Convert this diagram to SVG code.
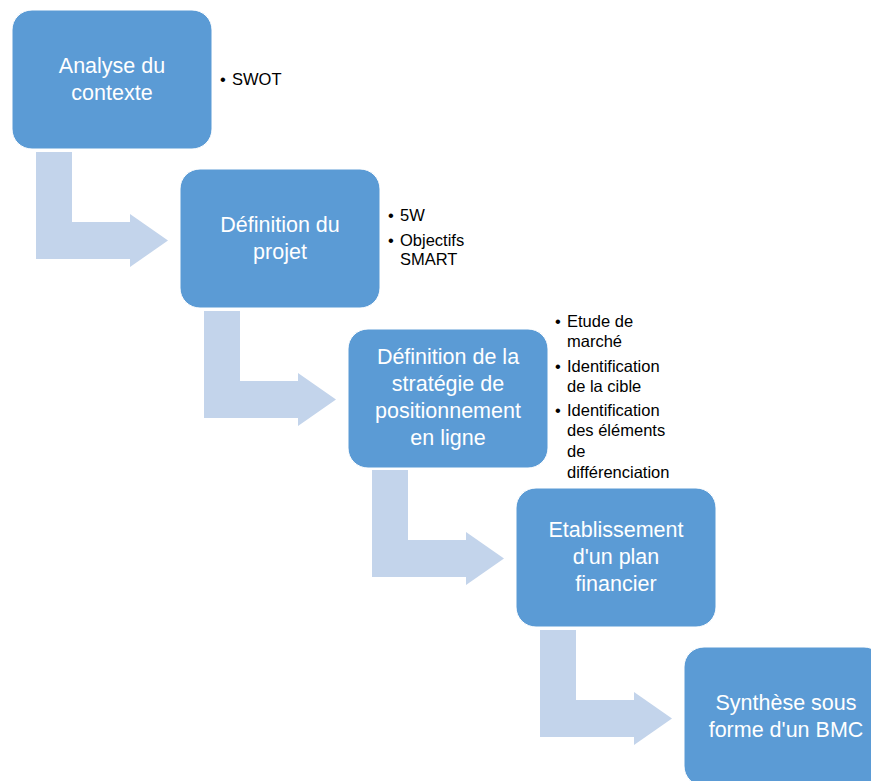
<svg xmlns="http://www.w3.org/2000/svg" width="871" height="781" viewBox="0 0 871 781">
<style>
.box{fill:#5B9BD5;stroke:#ffffff;stroke-width:1}
.arr{fill:#C3D4EB}
.t{font-family:"Liberation Sans",Arial,sans-serif;font-size:21.5px;fill:#ffffff;text-anchor:middle}
.b{font-family:"Liberation Sans",Arial,sans-serif;font-size:16.5px;fill:#000000}
</style>
<rect x="0" y="0" width="871" height="781" fill="#ffffff"/>
<defs>
<path id="bent" d="M36,152 H72 V222 H130 V214 L168,240.5 L130,267 V259 H36 Z"/>
</defs>
<g id="connectors">
<use href="#bent" class="arr"/>
<use href="#bent" class="arr" transform="translate(168,159)"/>
<use href="#bent" class="arr" transform="translate(336,318)"/>
<use href="#bent" class="arr" transform="translate(504,478)"/>
</g>
<g id="node1">
<rect class="box" x="12" y="10" width="200" height="139" rx="20"/>
<text class="t" x="112" y="73">Analyse du</text>
<text class="t" x="112" y="100">contexte</text>
<text class="b" x="220" y="85">•</text>
<text class="b" x="232" y="85">SWOT</text>
</g>
<g id="node2">
<rect class="box" x="180" y="169" width="200" height="139" rx="20"/>
<text class="t" x="280" y="232">Définition du</text>
<text class="t" x="280" y="259">projet</text>
<text class="b" x="388" y="221">•</text>
<text class="b" x="400" y="221">5W</text>
<text class="b" x="388" y="246">•</text>
<text class="b" x="400" y="246">Objectifs</text>
<text class="b" x="400" y="265">SMART</text>
</g>
<g id="node3">
<rect class="box" x="348" y="329" width="200" height="139" rx="20"/>
<text class="t" x="448" y="364">Définition de la</text>
<text class="t" x="448" y="391">stratégie de</text>
<text class="t" x="448" y="418">positionnement</text>
<text class="t" x="448" y="445">en ligne</text>
<text class="b" x="555" y="327">•</text>
<text class="b" x="567" y="327">Etude de</text>
<text class="b" x="567" y="347">marché</text>
<text class="b" x="555" y="372">•</text>
<text class="b" x="567" y="372">Identification</text>
<text class="b" x="567" y="392">de la cible</text>
<text class="b" x="555" y="416">•</text>
<text class="b" x="567" y="416">Identification</text>
<text class="b" x="567" y="436">des éléments</text>
<text class="b" x="567" y="457">de</text>
<text class="b" x="567" y="478">différenciation</text>
</g>
<g id="node4">
<rect class="box" x="516" y="488" width="200" height="139" rx="20"/>
<text class="t" x="616" y="537">Etablissement</text>
<text class="t" x="616" y="564">d'un plan</text>
<text class="t" x="616" y="591">financier</text>
</g>
<g id="node5">
<rect class="box" x="684" y="647" width="200" height="139" rx="20"/>
<text class="t" x="786" y="710">Synthèse sous</text>
<text class="t" x="786" y="737">forme d'un BMC</text>
</g>
</svg>
